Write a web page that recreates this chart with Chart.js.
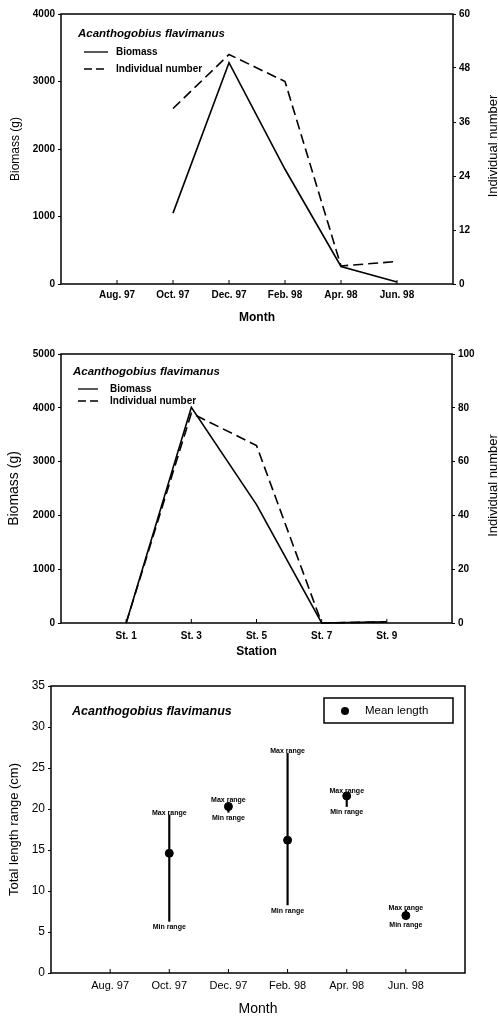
<!DOCTYPE html>
<html>
<head>
<meta charset="utf-8">
<title>Acanthogobius flavimanus</title>
<script src="https://cdn.jsdelivr.net/npm/chart.js@4.4.1/dist/chart.umd.min.js"></script>
<style>
  body { margin: 0; background: #fff; }
  .panel { position: absolute; left: 0; width: 498px; }
</style>
</head>
<body>
<div class="panel" style="top:0;height:325px"><canvas id="monthChart"></canvas></div>
<div class="panel" style="top:325px;height:335px"><canvas id="stationChart"></canvas></div>
<div class="panel" style="top:660px;height:359px"><canvas id="lengthChart"></canvas></div>

<script>
const species = "Acanthogobius flavimanus";

// month axis has an empty slot at each end
const monthLabels = ["", "Aug. 97", "Oct. 97", "Dec. 97", "Feb. 98", "Apr. 98", "Jun. 98", ""];
const monthBiomass = [null, null, 1050, 3280, 1700, 260, 30, null];
const monthCount = [null, null, 39, 51, 45, 4, 5, null];

const stationLabels = ["", "St. 1", "St. 3", "St. 5", "St. 7", "St. 9", ""];
const stationBiomass = [null, 0, 4010, 2200, 0, 20, null];
const stationCount = [null, 0, 78, 66, 0, 0.4, null];

// total length (cm) per month
const meanLength = [null, null, 14.6, 20.3, 16.2, 21.6, 7.0, null];
const maxLength = [null, null, 19.3, 20.8, 26.8, 21.9, 7.7, null];
const minLength = [null, null, 6.3, 19.6, 8.3, 20.3, 6.6, null];

const FONT = "'Liberation Sans', Arial, Helvetica, sans-serif";
Chart.defaults.font.family = FONT;
Chart.defaults.color = '#000';
Chart.defaults.animation = false;

// plain numbers, no thousands separator
const plain = v => String(v);

// box around the plot + short inward ticks on the x axis
const framePlugin = {
    id: 'frame',
    afterDraw(chart) {
        const { ctx, chartArea: a } = chart;
        const x = chart.scales.x;
        ctx.save();
        ctx.strokeStyle = '#000';
        ctx.lineWidth = 1.5;
        ctx.strokeRect(a.left, a.top, a.right - a.left, a.bottom - a.top);
        ctx.lineWidth = 1;
        x.ticks.forEach((t, i) => {
            if (!x.getLabelForValue(i)) return;
            const px = x.getPixelForTick(i);
            ctx.beginPath();
            ctx.moveTo(px, a.bottom);
            ctx.lineTo(px, a.bottom - 4);
            ctx.stroke();
        });
        ctx.restore();
    }
};

function rightTitle(ctx, text, x, y, size) {
    ctx.save();
    ctx.translate(x, y);
    ctx.rotate(-Math.PI / 2);
    ctx.font = size + 'px ' + FONT;
    ctx.fillStyle = '#000';
    ctx.textAlign = 'center';
    ctx.textBaseline = 'middle';
    ctx.fillText(text, 0, 0);
    ctx.restore();
}

// species name + line key drawn inside the plot
function lineKey(o) {
    return {
        id: 'lineKey',
        afterDraw(chart) {
            const ctx = chart.ctx;
            ctx.save();
            ctx.fillStyle = '#000';
            ctx.strokeStyle = '#000';
            ctx.textBaseline = 'middle';
            ctx.font = 'italic bold ' + o.titleSize + 'px ' + FONT;
            ctx.fillText(species, o.titleX, o.titleY);
            ctx.font = 'bold 10px ' + FONT;
            o.rows.forEach(r => {
                ctx.lineWidth = 1.3;
                ctx.setLineDash(r.dash);
                ctx.beginPath();
                ctx.moveTo(o.lineX0, r.y);
                ctx.lineTo(o.lineX1, r.y);
                ctx.stroke();
                ctx.setLineDash([]);
                ctx.fillText(r.text, o.textX, r.y);
            });
            rightTitle(ctx, 'Individual number', o.rightTitleX,
                (chart.chartArea.top + chart.chartArea.bottom) / 2 - 3, 13);
            ctx.restore();
        }
    };
}

function biomassChart(id, labels, biomass, count, c) {
    const tickFont = { size: 10, weight: 'bold' };
    new Chart(document.getElementById(id), {
        type: 'line',
        data: {
            labels: labels,
            datasets: [{
                label: 'Biomass',
                data: biomass,
                yAxisID: 'y',
                borderColor: '#000',
                borderWidth: 1.6,
                pointRadius: 0,
                clip: false
            }, {
                label: 'Individual number',
                data: count,
                yAxisID: 'y1',
                borderColor: '#000',
                borderWidth: 1.6,
                borderDash: [10, 5],
                pointRadius: 0,
                clip: false
            }]
        },
        options: {
            responsive: true,
            maintainAspectRatio: false,
            layout: { padding: { top: c.top, left: 0, right: 0, bottom: 0 } },
            plugins: { legend: { display: false }, tooltip: { enabled: false } },
            scales: {
                x: {
                    offset: false,
                    grid: { display: false, drawTicks: false },
                    border: { display: false },
                    ticks: { autoSkip: false, maxRotation: 0, padding: c.xPad, font: tickFont },
                    title: { display: true, text: c.xTitle, font: { size: 12, weight: 'bold' }, padding: c.xTitlePad },
                    afterFit: s => { s.height = c.xHeight; }
                },
                y: {
                    position: 'left',
                    min: 0,
                    max: c.bioMax,
                    ticks: { stepSize: c.bioStep, padding: 3, font: tickFont, callback: plain },
                    grid: { drawOnChartArea: false, tickLength: 3, color: '#000' },
                    border: { display: false },
                    title: { display: true, text: 'Biomass (g)', font: { size: c.leftTitleSize }, padding: { top: c.leftTitlePad } },
                    afterFit: s => { s.width = 61; }
                },
                y1: {
                    position: 'right',
                    min: 0,
                    max: c.countMax,
                    ticks: { stepSize: c.countStep, padding: 3, font: tickFont, callback: plain },
                    grid: { drawOnChartArea: false, tickLength: 3, color: '#000' },
                    border: { display: false },
                    afterFit: s => { s.width = c.rightWidth; }
                }
            }
        },
        plugins: [framePlugin, lineKey(c.key)]
    });
}

biomassChart('monthChart', monthLabels, monthBiomass, monthCount, {
    top: 14, xHeight: 41, xPad: 5, xTitle: 'Month', xTitlePad: 0,
    bioMax: 4000, bioStep: 1000, countMax: 60, countStep: 12,
    leftTitleSize: 12, leftTitlePad: 8, rightWidth: 45,
    key: {
        titleX: 78, titleY: 34, titleSize: 11.5,
        lineX0: 84, lineX1: 108, textX: 116, rightTitleX: 493,
        rows: [
            { y: 52, dash: [], text: 'Biomass' },
            { y: 69, dash: [8, 4], text: 'Individual number' }
        ]
    }
});

biomassChart('stationChart', stationLabels, stationBiomass, stationCount, {
    top: 29, xHeight: 37, xPad: 7, xTitle: 'Station', xTitlePad: 1,
    bioMax: 5000, bioStep: 1000, countMax: 100, countStep: 20,
    leftTitleSize: 14, leftTitlePad: 6, rightWidth: 46,
    key: {
        titleX: 73, titleY: 47, titleSize: 11.5,
        lineX0: 78, lineX1: 98, textX: 110, rightTitleX: 493,
        rows: [
            { y: 64, dash: [], text: 'Biomass' },
            { y: 76, dash: [8, 4], text: 'Individual number' }
        ]
    }
});

/* ---------- total length range ---------- */

const rangeBars = minLength.map((v, i) => v == null ? null : [v, maxLength[i]]);

const lengthOverlay = {
    id: 'lengthOverlay',
    afterDraw(chart) {
        const { ctx } = chart;
        const x = chart.scales.x, y = chart.scales.y;
        ctx.save();
        ctx.fillStyle = '#000';
        ctx.textAlign = 'center';
        ctx.textBaseline = 'middle';
        ctx.font = 'bold 7px ' + FONT;
        maxLength.forEach((v, i) => {
            if (v == null) return;
            const px = x.getPixelForValue(i);
            ctx.fillText('Max range', px, y.getPixelForValue(v) - 2);
            ctx.fillText('Min range', px, y.getPixelForValue(minLength[i]) + 6);
        });

        ctx.textAlign = 'left';
        ctx.font = 'italic bold 12.5px ' + FONT;
        ctx.fillText(species, 72, 52);

        // legend box
        ctx.lineWidth = 1.5;
        ctx.strokeStyle = '#000';
        ctx.strokeRect(324, 38, 129, 25);
        ctx.beginPath();
        ctx.arc(345, 51, 4, 0, Math.PI * 2);
        ctx.fill();
        ctx.font = '11.5px ' + FONT;
        ctx.fillText('Mean length', 365, 51);
        ctx.restore();
    }
};

new Chart(document.getElementById('lengthChart'), {
    type: 'line',
    data: {
        labels: monthLabels,
        datasets: [{
            type: 'bar',
            label: 'Range',
            data: rangeBars,
            backgroundColor: '#000',
            barThickness: 1.5,
            order: 1
        }, {
            type: 'line',
            label: 'Mean length',
            data: meanLength,
            showLine: false,
            pointRadius: 4,
            pointBackgroundColor: '#000',
            pointBorderColor: '#000',
            order: 0
        }]
    },
    options: {
        responsive: true,
        maintainAspectRatio: false,
        layout: { padding: { top: 26, left: 0, right: 33, bottom: 0 } },
        plugins: { legend: { display: false }, tooltip: { enabled: false } },
        scales: {
            x: {
                offset: false,
                grid: { display: false, drawTicks: false, offset: false },
                border: { display: false },
                ticks: { autoSkip: false, maxRotation: 0, padding: 6, font: { size: 11 } },
                title: { display: true, text: 'Month', font: { size: 14 }, padding: 1 },
                afterFit: s => { s.height = 46; }
            },
            y: {
                min: 0,
                max: 35,
                ticks: { stepSize: 5, padding: 3, font: { size: 12 } },
                grid: { drawOnChartArea: false, tickLength: 3, color: '#000' },
                border: { display: false },
                title: { display: true, text: 'Total length range (cm)', font: { size: 13 }, padding: { top: 7 } },
                afterFit: s => { s.width = 51; }
            }
        }
    },
    plugins: [framePlugin, lengthOverlay]
});
</script>
</body>
</html>
